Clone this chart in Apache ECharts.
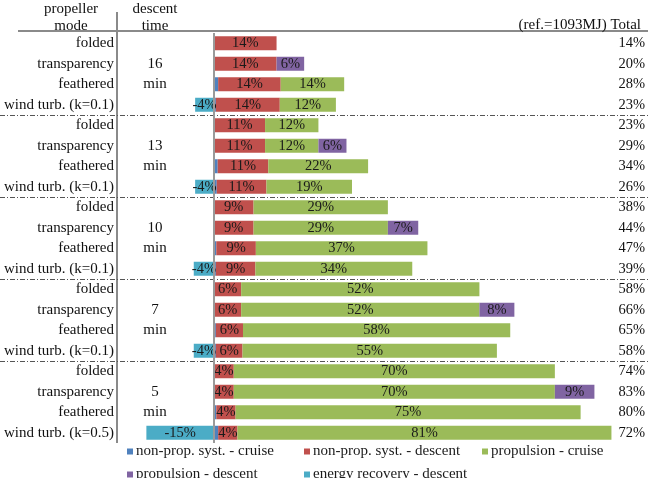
<!DOCTYPE html>
<html>
<head>
<meta charset="utf-8">
<script src="https://cdn.jsdelivr.net/npm/echarts@6/dist/echarts.min.js"></script>
<style>
html,body{margin:0;padding:0;background:#fff;}
#c{width:648px;height:478px;}
</style>
</head>
<body>
<div id="c"></div>
<script>
// ---- data ----
const rowLabels = [
  'folded','transparency','feathered','wind turb. (k=0.1)',
  'folded','transparency','feathered','wind turb. (k=0.1)',
  'folded','transparency','feathered','wind turb. (k=0.1)',
  'folded','transparency','feathered','wind turb. (k=0.1)',
  'folded','transparency','feathered','wind turb. (k=0.5)'
];
const descentTimes = ['16','13','10','7','5'];
const timeUnit = 'min';
const totals = ['14%','20%','28%','23%','23%','29%','34%','26%','38%','44%','47%','39%',
                '58%','66%','65%','58%','74%','83%','80%','72%'];
const seriesNames = ['non-prop. syst. - cruise','non-prop. syst. - descent','propulsion - cruise',
                     'propulsion - descent','energy recovery - descent'];
const nonPropCruise   = [null,null,0.9,0.4, null,null,0.8,0.6, null,null,0.5,0.4, null,null,0.4,0.4, null,null,0.5,0.9];
const nonPropDescent  = [13.6,13.6,13.6,13.9, 11.1,11.1,11.0,10.8, 8.6,8.6,8.6,8.6, 5.9,5.9,5.9,5.8, 4.3,4.3,4.2,4.2];
const propCruise      = [null,null,13.8,12.2, 11.6,11.6,21.7,18.6, 29.2,29.2,37.3,34.1, 51.8,51.8,58.1,55.3, 69.8,69.8,75.0,81.3];
const propDescent     = [null,6.0,null,null, null,6.1,null,null, null,6.6,null,null, null,7.6,null,null, null,8.6,null,null];
const energyRecovery  = [null,null,null,-4.1, null,null,null,-4.1, null,null,null,-4.4, null,null,null,-4.4, null,null,null,-14.7];
const headerMode = 'propeller\nmode';
const headerTime = 'descent\ntime';
const headerTotal = '(ref.=1093MJ) Total';

// ---- layout ----
const FONT = '"Liberation Serif", "Times New Roman", serif';
const colors = ['#4F81BD','#C0504D','#9BBB59','#8064A2','#4BACC6'];
const gridTop = 33, gridBottom = 35, rowH = (478 - gridTop - gridBottom) / rowLabels.length;

const groupAxis = [];
descentTimes.forEach(t => { groupAxis.push('', t, timeUnit, ''); });

const chart = echarts.init(document.getElementById('c'), null, {renderer: 'canvas'});

const labelFmt = p => Math.round(p.value) + '%';
function mkSeries(i, data, showLabel) {
  return {
    name: seriesNames[i], type: 'bar', stack: 'all', data: data,
    barWidth: 14, yAxisIndex: 0,
    itemStyle: {color: colors[i]},
    label: {show: showLabel, position: 'inside', formatter: labelFmt,
            fontFamily: FONT, fontSize: 14.5, color: '#1a1a1a'},
    emphasis: {disabled: true}, animation: false
  };
}
const series = [
  mkSeries(0, nonPropCruise, false),
  mkSeries(1, nonPropDescent, true),
  mkSeries(2, propCruise, true),
  mkSeries(3, propDescent, true),
  mkSeries(4, energyRecovery, true)
];
series[1].markLine = {
  silent: true, symbol: ['none','none'], label: {show: false},
  lineStyle: {color: '#9a9a9a', width: 2, type: 'solid'},
  data: [{xAxis: 0}], animation: false
};

const graphics = [
  {type: 'line', shape: {x1: 18, y1: 31, x2: 648, y2: 31}, style: {stroke: '#8a8a8a', lineWidth: 2}, silent: true},
  {type: 'line', shape: {x1: 117, y1: 12, x2: 117, y2: 443}, style: {stroke: '#8a8a8a', lineWidth: 2}, silent: true},
  {type: 'text', style: {text: headerMode, x: 71, y: 17.5, font: '15px ' + FONT, fill: '#111', textAlign: 'center', textVerticalAlign: 'middle', lineHeight: 17}},
  {type: 'text', style: {text: headerTime, x: 155, y: 17.5, font: '15px ' + FONT, fill: '#111', textAlign: 'center', textVerticalAlign: 'middle', lineHeight: 17}},
  {type: 'text', style: {text: headerTotal, x: 641, y: 25.5, font: '15px ' + FONT, fill: '#111', textAlign: 'right', textVerticalAlign: 'middle'}}
];
for (let k = 1; k < descentTimes.length; k++) {
  const y = Math.round(gridTop + k * 4 * rowH) + 0.5;
  graphics.push({type: 'line', shape: {x1: 0, y1: y, x2: 648, y2: y},
    style: {stroke: '#555', lineWidth: 1, lineDash: [5, 2, 1, 2]}, silent: true});
}

const legendPos = [[127, 444], [304, 444], [482, 444], [127, 467], [304, 467]];
const legends = seriesNames.map((n, i) => ({
  orient: 'horizontal', icon: 'rect', itemWidth: 6, itemHeight: 6, padding: 0,
  textStyle: {fontFamily: FONT, fontSize: 15, color: '#1a1a1a', padding: [0,0,0,-2]},
  selectedMode: false, left: legendPos[i][0], top: legendPos[i][1], data: [n]
}));

chart.setOption({
  animation: false,
  backgroundColor: '#fff',
  grid: {left: 122, right: 20, top: gridTop, bottom: gridBottom},
  xAxis: {type: 'value', min: -20, max: 90, show: false},
  yAxis: [
    {type: 'category', data: rowLabels, inverse: true, position: 'left',
     axisLine: {show: false}, axisTick: {show: false}, splitLine: {show: false},
     axisLabel: {margin: 8, fontFamily: FONT, fontSize: 15, color: '#111'}},
    {type: 'category', data: totals, inverse: true, position: 'right',
     axisLine: {show: false}, axisTick: {show: false}, splitLine: {show: false},
     axisLabel: {margin: 17, align: 'right', fontFamily: FONT, fontSize: 14.5, color: '#111'}},
    {type: 'category', data: groupAxis, inverse: true, position: 'left', offset: -33,
     axisLine: {show: false}, axisTick: {show: false}, splitLine: {show: false},
     axisLabel: {margin: 0, align: 'center', fontFamily: FONT, fontSize: 15, color: '#111'}}
  ],
  legend: legends,
  graphic: graphics,
  series: series
});
</script>
</body>
</html>
